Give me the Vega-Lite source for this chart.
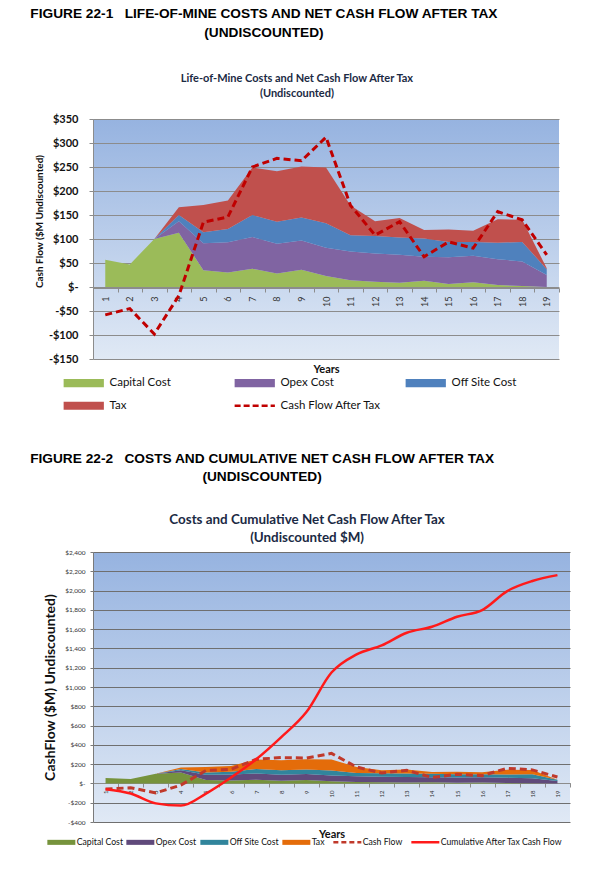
{
  "$schema": "https://vega.github.io/schema/vega-lite/v6.json",
  "background": "white",
  "padding": {"left": 29, "right": 0, "top": 7, "bottom": 0},
  "config": {
    "font": "Lato",
    "view": {"stroke": null},
    "title": {"color": "#111111"}
  },
  "resolve": {"scale": {"color": "independent"}, "legend": {"color": "independent"}},
  "datasets": {
    "costs": [
      {"year": 1, "category": "Capital Cost", "k": 1, "value": 57}, {"year": 1, "category": "Opex Cost", "k": 2, "value": 0}, {"year": 1, "category": "Off Site Cost", "k": 3, "value": 0}, {"year": 1, "category": "Tax", "k": 4, "value": 0},
      {"year": 2, "category": "Capital Cost", "k": 1, "value": 47}, {"year": 2, "category": "Opex Cost", "k": 2, "value": 0}, {"year": 2, "category": "Off Site Cost", "k": 3, "value": 0}, {"year": 2, "category": "Tax", "k": 4, "value": 0},
      {"year": 3, "category": "Capital Cost", "k": 1, "value": 100}, {"year": 3, "category": "Opex Cost", "k": 2, "value": 0}, {"year": 3, "category": "Off Site Cost", "k": 3, "value": 0}, {"year": 3, "category": "Tax", "k": 4, "value": 0},
      {"year": 4, "category": "Capital Cost", "k": 1, "value": 113}, {"year": 4, "category": "Opex Cost", "k": 2, "value": 24}, {"year": 4, "category": "Off Site Cost", "k": 3, "value": 13}, {"year": 4, "category": "Tax", "k": 4, "value": 16},
      {"year": 5, "category": "Capital Cost", "k": 1, "value": 35}, {"year": 5, "category": "Opex Cost", "k": 2, "value": 56}, {"year": 5, "category": "Off Site Cost", "k": 3, "value": 23}, {"year": 5, "category": "Tax", "k": 4, "value": 57},
      {"year": 6, "category": "Capital Cost", "k": 1, "value": 30}, {"year": 6, "category": "Opex Cost", "k": 2, "value": 63}, {"year": 6, "category": "Off Site Cost", "k": 3, "value": 28}, {"year": 6, "category": "Tax", "k": 4, "value": 59},
      {"year": 7, "category": "Capital Cost", "k": 1, "value": 38}, {"year": 7, "category": "Opex Cost", "k": 2, "value": 66}, {"year": 7, "category": "Off Site Cost", "k": 3, "value": 46}, {"year": 7, "category": "Tax", "k": 4, "value": 99},
      {"year": 8, "category": "Capital Cost", "k": 1, "value": 28}, {"year": 8, "category": "Opex Cost", "k": 2, "value": 62}, {"year": 8, "category": "Off Site Cost", "k": 3, "value": 46}, {"year": 8, "category": "Tax", "k": 4, "value": 105},
      {"year": 9, "category": "Capital Cost", "k": 1, "value": 36}, {"year": 9, "category": "Opex Cost", "k": 2, "value": 61}, {"year": 9, "category": "Off Site Cost", "k": 3, "value": 48}, {"year": 9, "category": "Tax", "k": 4, "value": 106},
      {"year": 10, "category": "Capital Cost", "k": 1, "value": 23}, {"year": 10, "category": "Opex Cost", "k": 2, "value": 59}, {"year": 10, "category": "Off Site Cost", "k": 3, "value": 51}, {"year": 10, "category": "Tax", "k": 4, "value": 116},
      {"year": 11, "category": "Capital Cost", "k": 1, "value": 14}, {"year": 11, "category": "Opex Cost", "k": 2, "value": 60}, {"year": 11, "category": "Off Site Cost", "k": 3, "value": 34}, {"year": 11, "category": "Tax", "k": 4, "value": 62},
      {"year": 12, "category": "Capital Cost", "k": 1, "value": 11}, {"year": 12, "category": "Opex Cost", "k": 2, "value": 59}, {"year": 12, "category": "Off Site Cost", "k": 3, "value": 36}, {"year": 12, "category": "Tax", "k": 4, "value": 31},
      {"year": 13, "category": "Capital Cost", "k": 1, "value": 9}, {"year": 13, "category": "Opex Cost", "k": 2, "value": 58}, {"year": 13, "category": "Off Site Cost", "k": 3, "value": 36}, {"year": 13, "category": "Tax", "k": 4, "value": 41},
      {"year": 14, "category": "Capital Cost", "k": 1, "value": 13}, {"year": 14, "category": "Opex Cost", "k": 2, "value": 50}, {"year": 14, "category": "Off Site Cost", "k": 3, "value": 38}, {"year": 14, "category": "Tax", "k": 4, "value": 18},
      {"year": 15, "category": "Capital Cost", "k": 1, "value": 6}, {"year": 15, "category": "Opex Cost", "k": 2, "value": 56}, {"year": 15, "category": "Off Site Cost", "k": 3, "value": 32}, {"year": 15, "category": "Tax", "k": 4, "value": 26},
      {"year": 16, "category": "Capital Cost", "k": 1, "value": 10}, {"year": 16, "category": "Opex Cost", "k": 2, "value": 55}, {"year": 16, "category": "Off Site Cost", "k": 3, "value": 29}, {"year": 16, "category": "Tax", "k": 4, "value": 23},
      {"year": 17, "category": "Capital Cost", "k": 1, "value": 4}, {"year": 17, "category": "Opex Cost", "k": 2, "value": 54}, {"year": 17, "category": "Off Site Cost", "k": 3, "value": 34}, {"year": 17, "category": "Tax", "k": 4, "value": 49},
      {"year": 18, "category": "Capital Cost", "k": 1, "value": 2}, {"year": 18, "category": "Opex Cost", "k": 2, "value": 51}, {"year": 18, "category": "Off Site Cost", "k": 3, "value": 41}, {"year": 18, "category": "Tax", "k": 4, "value": 46},
      {"year": 19, "category": "Capital Cost", "k": 1, "value": 0}, {"year": 19, "category": "Opex Cost", "k": 2, "value": 25}, {"year": 19, "category": "Off Site Cost", "k": 3, "value": 12}, {"year": 19, "category": "Tax", "k": 4, "value": 2}
    ],
    "cash": [
      {"year": 1, "cf": -58, "cum": -60},
      {"year": 2, "cf": -45, "cum": -105},
      {"year": 3, "cf": -98, "cum": -207},
      {"year": 4, "cf": -18, "cum": -230},
      {"year": 5, "cf": 135, "cum": -105},
      {"year": 6, "cf": 146, "cum": 62},
      {"year": 7, "cf": 250, "cum": 250},
      {"year": 8, "cf": 268, "cum": 480},
      {"year": 9, "cf": 263, "cum": 740},
      {"year": 10, "cf": 312, "cum": 1150},
      {"year": 11, "cf": 170, "cum": 1338},
      {"year": 12, "cf": 108, "cum": 1432},
      {"year": 13, "cf": 136, "cum": 1563},
      {"year": 14, "cf": 63, "cum": 1625},
      {"year": 15, "cf": 94, "cum": 1729},
      {"year": 16, "cf": 81, "cum": 1798},
      {"year": 17, "cf": 157, "cum": 1995},
      {"year": 18, "cf": 140, "cum": 2099},
      {"year": 19, "cf": 67, "cum": 2160}
    ]
  },
  "spacing": 39,
  "vconcat": [
    {
      "title": {
        "text": ["FIGURE 22-1\u00a0\u00a0\u00a0LIFE-OF-MINE COSTS AND NET CASH FLOW AFTER TAX", "(UNDISCOUNTED)"],
        "font": "Liberation Sans", "fontSize": 13.7, "fontWeight": "bold", "lineHeight": 19,
        "anchor": "middle", "frame": "bounds", "dx": -33, "offset": 33, "color": "#000000"
      },
      "vconcat": [
        {
          "width": 466,
          "height": 240,
          "title": {
            "text": ["Life-of-Mine Costs and Net Cash Flow After Tax", "(Undiscounted)"],
            "fontSize": 11, "fontWeight": "bold", "lineHeight": 15, "anchor": "middle", "frame": "bounds",
            "offset": 14, "color": "#1b2a44"
          },
          "view": {
            "fill": {"gradient": "linear", "x1": 0, "y1": 0, "x2": 0, "y2": 1,
              "stops": [{"offset": 0, "color": "#96B3E0"}, {"offset": 1, "color": "#E0E9F5"}]},
            "stroke": null
          },
          "layer": [
            {
              "data": {"name": "costs"},
              "mark": {"type": "area", "opacity": 1},
              "encoding": {
                "x": {"field": "year", "type": "ordinal", "bandPosition": 0.5,
                  "scale": {"type": "band", "paddingInner": 0, "paddingOuter": 0},
                  "axis": {"title": "Years", "orient": "bottom", "offset": -71, "labelAngle": -90, "labelFontSize": 9,
                    "labelColor": "#333333", "tickBand": "extent", "tickSize": 4, "domainColor": "#8c8c8c", "tickColor": "#8c8c8c",
                    "grid": false, "titleFontSize": 11, "titleFontWeight": "bold", "titlePadding": 57, "labelPadding": 4, "titleColor": "#111111"}},
                "y": {"field": "value", "type": "quantitative", "stack": "zero",
                  "scale": {"domain": [-150, 350], "nice": false},
                  "axis": {"title": "Cash Flow ($M Undiscounted)", "values": [-150, -100, -50, 0, 50, 100, 150, 200, 250, 300, 350], "tickCount": 11,
                    "labelExpr": "datum.value == 0 ? '$-' : (datum.value < 0 ? '-$' + format(-datum.value, ',') : '$' + format(datum.value, ','))",
                    "labelFontSize": 11, "labelFontWeight": "bold", "labelColor": "#111111", "labelPadding": 11, "tickSize": 4,
                    "tickColor": "#8c8c8c", "domainColor": "#8c8c8c", "gridColor": "#8c8c8c", "gridWidth": 1,
                    "titleFontSize": 10, "titleFontWeight": "bold", "titlePadding": 4, "titleColor": "#111111", "titleY": 102}},
                "color": {"field": "category", "type": "nominal",
                  "scale": {"domain": ["Capital Cost", "Opex Cost", "Off Site Cost", "Tax", "Cash Flow After Tax"],
                    "range": ["#9BBB59", "#8064A2", "#4F81BD", "#C0504D", "#C00000"]},
                  "legend": {"title": null, "orient": "none", "direction": "horizontal", "legendX": -15, "legendY": 258, "columns": 3, "gridAlign": "all",
                    "columnPadding": 18, "rowPadding": 10, "symbolType": "M-1.75,-0.35H1.75V0.35H-1.75Z", "symbolSize": 529, "symbolStrokeWidth": 0,
                    "labelFontSize": 11.5, "labelColor": "#111111", "labelOffset": 20, "labelLimit": 200,
                    "encode": {"symbols": {
                      "shape": {"value": {"expr": "datum.value == 'Cash Flow After Tax' ? 'M-1.75,0H1.75' : 'M-1.75,-0.35H1.75V0.35H-1.75Z'"}},
                      "fill": {"value": {"expr": "datum.value == 'Capital Cost' ? '#9BBB59' : datum.value == 'Opex Cost' ? '#8064A2' : datum.value == 'Off Site Cost' ? '#4F81BD' : datum.value == 'Tax' ? '#C0504D' : 'transparent'"}},
                      "stroke": {"value": "#C00000"},
                      "strokeWidth": {"value": {"expr": "datum.value == 'Cash Flow After Tax' ? 2.5 : 0"}},
                      "strokeDash": {"value": [6, 3]},
                      "opacity": {"value": 1}
                    }},
                    "encoding": {"symbols": {
                      "shape": {"value": {"expr": "datum.value == 'Cash Flow After Tax' ? 'M-1.75,0H1.75' : 'M-1.75,-0.35H1.75V0.35H-1.75Z'"}},
                      "fill": {"value": {"expr": "datum.value == 'Capital Cost' ? '#9BBB59' : datum.value == 'Opex Cost' ? '#8064A2' : datum.value == 'Off Site Cost' ? '#4F81BD' : datum.value == 'Tax' ? '#C0504D' : 'transparent'"}},
                      "stroke": {"value": "#C00000"},
                      "strokeWidth": {"value": {"expr": "datum.value == 'Cash Flow After Tax' ? 2.5 : 0"}},
                      "strokeDash": {"value": [6, 3]},
                      "opacity": {"value": 1}
                    }}}},
                "order": {"field": "k", "type": "quantitative", "sort": "ascending"}
              }
            },
            {
              "data": {"name": "cash"},
              "mark": {"type": "line", "strokeWidth": 3, "strokeDash": [7, 4]},
              "encoding": {
                "x": {"field": "year", "type": "ordinal", "bandPosition": 0.5},
                "y": {"field": "cf", "type": "quantitative"},
                "color": {"datum": "Cash Flow After Tax"}
              }
            }
          ]
        }
      ]
    },
    {
      "title": {
        "text": ["FIGURE 22-2\u00a0\u00a0\u00a0COSTS AND CUMULATIVE NET CASH FLOW AFTER TAX", "(UNDISCOUNTED)"],
        "font": "Liberation Sans", "fontSize": 13.7, "fontWeight": "bold", "lineHeight": 18,
        "anchor": "middle", "frame": "bounds", "dx": -45, "offset": 29, "color": "#000000"
      },
      "vconcat": [
        {
          "width": 477,
          "height": 270,
          "title": {
            "text": ["Costs and Cumulative Net Cash Flow After Tax", "(Undiscounted $M)"],
            "fontSize": 13.4, "fontWeight": "bold", "lineHeight": 18, "anchor": "middle", "frame": "bounds",
            "offset": 5, "color": "#1b2a44"
          },
          "view": {
            "fill": {"gradient": "linear", "x1": 0, "y1": 0, "x2": 0, "y2": 1,
              "stops": [{"offset": 0, "color": "#96B3E0"}, {"offset": 1, "color": "#E0E9F5"}]},
            "stroke": null
          },
          "layer": [
            {
              "data": {"name": "costs"},
              "mark": {"type": "area", "opacity": 1},
              "encoding": {
                "x": {"field": "year", "type": "ordinal", "bandPosition": 0.5,
                  "scale": {"type": "band", "paddingInner": 0, "paddingOuter": 0},
                  "axis": {"title": "Years", "orient": "bottom", "offset": -39, "labelAngle": -90, "labelFontSize": 6,
                    "labelColor": "#333333", "tickBand": "extent", "tickSize": 4, "domainColor": "#8c8c8c", "tickColor": "#8c8c8c",
                    "grid": false, "titleFontSize": 11, "titleFontWeight": "bold", "titlePadding": 32, "labelPadding": 3, "titleColor": "#111111"}},
                "y": {"field": "value", "type": "quantitative", "stack": "zero",
                  "scale": {"domain": [-400, 2400], "nice": false},
                  "axis": {"title": "CashFlow ($M) Undiscounted)", "values": [-400, -200, 0, 200, 400, 600, 800, 1000, 1200, 1400, 1600, 1800, 2000, 2200, 2400], "tickCount": 15,
                    "labelExpr": "datum.value == 0 ? '$-' : (datum.value < 0 ? '-$' + format(-datum.value, ',') : '$' + format(datum.value, ','))",
                    "labelFontSize": 6.5, "labelColor": "#333333", "labelPadding": 5, "tickSize": 3,
                    "tickColor": "#7a7a7a", "domainColor": "#7a7a7a", "gridColor": "#6f6f6f", "gridWidth": 1,
                    "titleFontSize": 14, "titleFontWeight": "bold", "titlePadding": 7, "titleColor": "#111111"}},
                "color": {"field": "category", "type": "nominal",
                  "scale": {"domain": ["Capital Cost", "Opex Cost", "Off Site Cost", "Tax", "Cash Flow", "Cumulative After Tax Cash Flow"],
                    "range": ["#76933C", "#604A7B", "#31859C", "#E46C0A", "#C0392B", "#FF1A1A"]},
                  "legend": {"title": null, "orient": "none", "direction": "horizontal", "legendX": -36, "legendY": 286, "columns": 6, "gridAlign": "none",
                    "columnPadding": 3, "symbolType": "M-2,-0.36H2V0.36H-2Z", "symbolSize": 196, "symbolStrokeWidth": 0,
                    "labelFontSize": 8.7, "labelColor": "#111111", "labelOffset": 11, "labelLimit": 200,
                    "encode": {"symbols": {
                      "shape": {"value": {"expr": "datum.value == 'Cash Flow' || datum.value == 'Cumulative After Tax Cash Flow' ? 'M-2,0H2' : 'M-2,-0.36H2V0.36H-2Z'"}},
                      "fill": {"value": {"expr": "datum.value == 'Capital Cost' ? '#76933C' : datum.value == 'Opex Cost' ? '#604A7B' : datum.value == 'Off Site Cost' ? '#31859C' : datum.value == 'Tax' ? '#E46C0A' : 'transparent'"}},
                      "stroke": {"value": {"expr": "datum.value == 'Cash Flow' ? '#C0392B' : '#FF1A1A'"}},
                      "strokeWidth": {"value": {"expr": "datum.value == 'Cash Flow' || datum.value == 'Cumulative After Tax Cash Flow' ? 2.5 : 0"}},
                      "strokeDash": {"value": {"expr": "datum.value == 'Cash Flow' ? [5, 3] : [1, 0]"}},
                      "opacity": {"value": 1}
                    }},
                    "encoding": {"symbols": {
                      "shape": {"value": {"expr": "datum.value == 'Cash Flow' || datum.value == 'Cumulative After Tax Cash Flow' ? 'M-2,0H2' : 'M-2,-0.36H2V0.36H-2Z'"}},
                      "fill": {"value": {"expr": "datum.value == 'Capital Cost' ? '#76933C' : datum.value == 'Opex Cost' ? '#604A7B' : datum.value == 'Off Site Cost' ? '#31859C' : datum.value == 'Tax' ? '#E46C0A' : 'transparent'"}},
                      "stroke": {"value": {"expr": "datum.value == 'Cash Flow' ? '#C0392B' : '#FF1A1A'"}},
                      "strokeWidth": {"value": {"expr": "datum.value == 'Cash Flow' || datum.value == 'Cumulative After Tax Cash Flow' ? 2.5 : 0"}},
                      "strokeDash": {"value": {"expr": "datum.value == 'Cash Flow' ? [5, 3] : [1, 0]"}},
                      "opacity": {"value": 1}
                    }}}},
                "order": {"field": "k", "type": "quantitative", "sort": "ascending"}
              }
            },
            {
              "data": {"name": "cash"},
              "mark": {"type": "line", "strokeWidth": 3, "strokeDash": [7, 4]},
              "encoding": {
                "x": {"field": "year", "type": "ordinal", "bandPosition": 0.5},
                "y": {"field": "cf", "type": "quantitative"},
                "color": {"datum": "Cash Flow"}
              }
            },
            {
              "data": {"name": "cash"},
              "mark": {"type": "line", "strokeWidth": 2.5, "interpolate": "monotone"},
              "encoding": {
                "x": {"field": "year", "type": "ordinal", "bandPosition": 0.5},
                "y": {"field": "cum", "type": "quantitative"},
                "color": {"datum": "Cumulative After Tax Cash Flow"}
              }
            }
          ]
        }
      ]
    }
  ]
}
